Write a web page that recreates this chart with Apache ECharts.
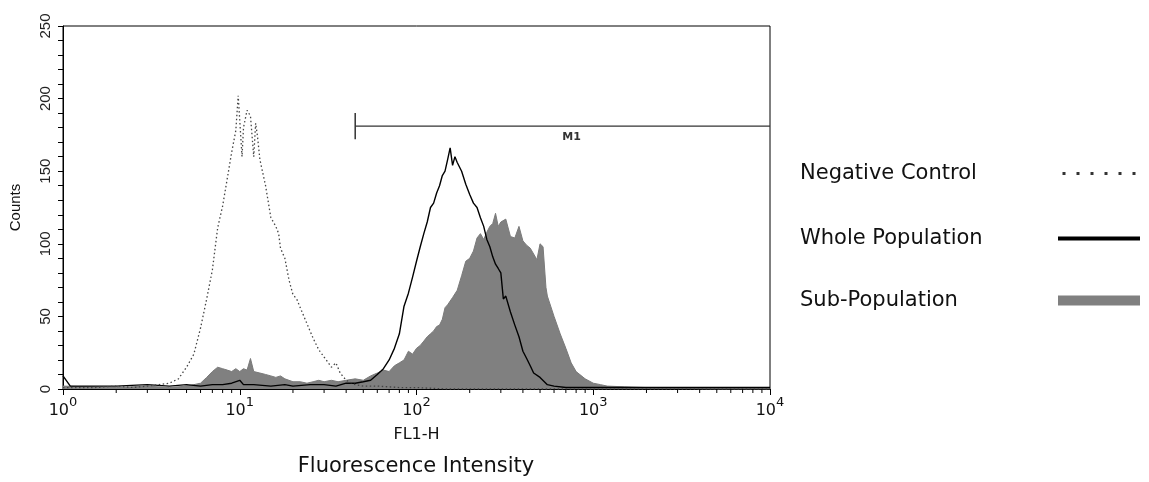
<!DOCTYPE html>
<html>
<head>
<meta charset="utf-8">
<script src="https://cdn.jsdelivr.net/npm/echarts@6/dist/echarts.min.js"></script>
<style>
html,body{margin:0;padding:0;background:#fff;}
#chart{width:1149px;height:482px;}
</style>
</head>
<body>
<div id="chart"></div>
<script>
// ---- data (FL1-H fluorescence value, counts) ----
const negX = [1, 1.5, 2, 2.5, 3, 3.5, 4, 4.5, 5, 5.5, 6, 6.5, 7, 7.5, 8, 8.5, 9, 9.5, 9.8, 10, 10.3, 10.5, 11, 11.5, 12, 12.3, 12.6, 13, 14, 15, 16, 16.6, 17, 18, 19, 20, 21, 22, 24, 26, 28, 30, 33, 35, 37, 40, 45, 50, 60, 80, 100, 150, 200, 500, 1000, 10000];
const negY = [1, 1, 2, 1, 2, 3, 4, 7, 15, 24, 42, 62, 82, 111, 126, 145, 163, 178, 202, 185, 160, 180, 192, 188, 160, 183, 174, 158, 140, 118, 112, 107, 97, 90, 75, 65, 62, 56, 45, 35, 27, 22, 15, 18, 11, 6, 3, 2, 2, 1, 1, 0, 0, 0, 0, 0];

const wholeX = [1, 1.1, 1.5, 2, 3, 4, 5, 6, 7, 8, 9, 10, 10.5, 12, 15, 18, 20, 25, 30, 35, 40, 45, 50, 55, 60, 65, 70, 75, 80, 85, 90, 95, 100, 105, 110, 115, 120, 125, 130, 135, 140, 145, 150, 155, 160, 165, 170, 180, 190, 200, 210, 220, 230, 240, 250, 260, 270, 280, 290, 300, 310, 320, 340, 360, 380, 400, 420, 440, 460, 500, 550, 600, 700, 800, 1000, 2000, 5000, 10000];
const wholeY = [9, 2, 2, 2, 3, 2, 3, 2, 3, 3, 4, 6, 3, 3, 2, 3, 2, 3, 3, 2, 4, 4, 5, 6, 10, 14, 20, 28, 38, 57, 66, 77, 88, 98, 107, 115, 125, 128, 135, 140, 147, 150, 158, 166, 154, 160, 156, 150, 141, 134, 128, 125, 118, 112, 103, 98, 91, 86, 83, 80, 62, 64, 53, 44, 36, 26, 21, 16, 11, 8, 3, 2, 1, 1, 1, 1, 1, 1];

const subX = [1, 2, 3, 4, 5, 5.5, 6, 6.5, 7, 7.5, 8, 8.5, 9, 9.5, 10, 10.5, 11, 11.5, 12, 13, 14, 15, 16, 17, 18, 20, 22, 24, 26, 28, 30, 33, 36, 40, 45, 50, 55, 60, 65, 70, 75, 80, 85, 90, 95, 100, 105, 110, 115, 120, 125, 130, 135, 140, 145, 150, 160, 170, 180, 190, 200, 210, 220, 230, 240, 250, 260, 270, 280, 290, 300, 320, 340, 360, 380, 400, 420, 440, 460, 480, 500, 520, 540, 550, 600, 650, 700, 750, 800, 900, 1000, 1100, 1200, 1500, 2000, 3000, 5000, 10000];
const subY = [2, 1, 2, 1, 2, 3, 4, 8, 12, 15, 14, 13, 12, 14, 12, 14, 13, 21, 12, 11, 10, 9, 8, 9, 7, 5, 5, 4, 5, 6, 5, 6, 5, 6, 7, 6, 9, 11, 13, 12, 16, 18, 20, 26, 24, 28, 30, 33, 36, 38, 40, 43, 44, 48, 56, 58, 63, 68, 78, 88, 90, 95, 104, 107, 103, 108, 112, 114, 121, 112, 115, 117, 105, 104, 112, 102, 99, 97, 93, 89, 100, 98, 70, 64, 50, 38, 28, 18, 12, 7, 4, 3, 2, 1.5, 1, 0.5, 0, 0];

const xMinorTicks = [2, 3, 4, 5, 6, 7, 8, 9, 20, 30, 40, 50, 60, 70, 80, 90, 200, 300, 400, 500, 600, 700, 800, 900, 2000, 3000, 4000, 5000, 6000, 7000, 8000, 9000];
const m1Range = [45, 10000];
const m1Level = 181;
const m1BarHalf = 9;

function zip(xs, ys) { return xs.map((x, i) => [x, ys[i]]); }

const chart = echarts.init(document.getElementById('chart'), null, {renderer: 'canvas'});
const FONT = '"DejaVu Sans", "Liberation Sans", Arial, sans-serif';
const FONT2 = '"Liberation Sans", Arial, sans-serif';
const DOTS = 'path://M0,0h3v3h-3z M14,0h3v3h-3z M28,0h3v3h-3z M42,0h3v3h-3z M56,0h3v3h-3z M70,0h3v3h-3z';
const LEG_FONT_SIZE = 21;
const LEG_TEXT_BOX = 253;

const measureCtx = document.createElement('canvas').getContext('2d');
measureCtx.font = LEG_FONT_SIZE + 'px ' + FONT;
function textW(s) { return measureCtx.measureText(s).width; }

function legendBox(name, top, extra) {
  const padR = Math.max(0, LEG_TEXT_BOX - textW(name));
  return Object.assign({
    data: [name],
    left: 800,
    top: top,
    orient: 'vertical',
    align: 'right',
    padding: 0,
    itemGap: 0,
    itemWidth: 82,
    selectedMode: false,
    textStyle: {fontFamily: FONT, fontSize: LEG_FONT_SIZE, color: '#111', padding: [0, padR, 0, 0]}
  }, extra);
}

const option = {
  animation: false,
  backgroundColor: '#fff',
  grid: {left: 62, right: 379, top: 26, bottom: 93, show: true, borderColor: '#000', borderWidth: 1, containLabel: false},
  xAxis: {
    type: 'log', logBase: 10, min: 1, max: 10000,
    name: 'FL1-H', nameLocation: 'middle', nameGap: 38,
    nameTextStyle: {fontFamily: FONT, fontSize: 16, color: '#111'},
    axisLine: {show: true, lineStyle: {color: '#000', width: 1}},
    axisTick: {show: true, length: 6, lineStyle: {color: '#000'}},
    splitLine: {show: false},
    minorTick: {show: false},
    axisLabel: {
      margin: 7,
      formatter: function (v) { return '{b|10}{s|' + Math.round(Math.log10(v)) + '}'; },
      rich: {
        b: {fontFamily: FONT, fontSize: 16, color: '#111', lineHeight: 23, verticalAlign: 'bottom'},
        s: {fontFamily: FONT, fontSize: 13, color: '#111', verticalAlign: 'top'}
      }
    }
  },
  yAxis: {
    type: 'value', min: 0, max: 250, interval: 50,
    name: 'Counts', nameLocation: 'middle', nameGap: 40,
    nameTextStyle: {fontFamily: FONT2, fontSize: 15, color: '#111'},
    axisLine: {show: true, lineStyle: {color: '#000', width: 1}},
    axisTick: {show: true, length: 5, lineStyle: {color: '#000'}},
    minorTick: {show: true, splitNumber: 5, length: 5, lineStyle: {color: '#000'}},
    splitLine: {show: false},
    axisLabel: {rotate: 90, margin: 10, fontFamily: FONT2, fontSize: 15, color: '#222'}
  },
  legend: [
    legendBox('Negative Control', 163, {itemHeight: 3, icon: DOTS, itemStyle: {color: '#333'}}),
    legendBox('Whole Population', 228, {itemHeight: 4, icon: 'rect', itemStyle: {color: '#000'}}),
    legendBox('Sub-Population', 290, {itemHeight: 10, icon: 'rect', itemStyle: {color: '#808080'}})
  ],
  graphic: [{
    type: 'text',
    style: {text: 'Fluorescence Intensity', x: 416, y: 467, align: 'center', verticalAlign: 'middle',
      font: '21px ' + FONT, fill: '#111'}
  }],
  series: [
    {
      name: 'Sub-Population', type: 'line', data: zip(subX, subY), symbol: 'none',
      lineStyle: {color: '#7a7a7a', width: 1}, itemStyle: {color: '#808080'},
      areaStyle: {color: '#808080', opacity: 1}, z: 2
    },
    {
      name: 'Whole Population', type: 'line', data: zip(wholeX, wholeY), symbol: 'none',
      lineStyle: {color: '#000', width: 1.4}, itemStyle: {color: '#000'}, z: 3
    },
    {
      name: 'Negative Control', type: 'line', data: zip(negX, negY), symbol: 'none',
      lineStyle: {color: '#444', width: 1.3, type: [1.5, 2.5]}, itemStyle: {color: '#444'}, z: 4
    },
    {
      name: 'xMinor', type: 'custom', data: xMinorTicks.map(v => [v]), clip: false, silent: true, z: 5,
      renderItem: function (params, api) {
        const p = api.coord([api.value(0), 0]);
        return {type: 'line', shape: {x1: p[0], y1: p[1], x2: p[0], y2: p[1] + 4},
          style: {stroke: '#000', lineWidth: 1}};
      }
    },
    {
      name: 'M1', type: 'custom', data: [[m1Range[0], m1Range[1], m1Level]], clip: false, silent: true, z: 6,
      renderItem: function (params, api) {
        const a = api.coord([api.value(0), api.value(2)]);
        const b = api.coord([api.value(1), api.value(2)]);
        const t = api.coord([api.value(0), api.value(2) + m1BarHalf]);
        const u = api.coord([api.value(0), api.value(2) - m1BarHalf]);
        return {type: 'group', children: [
          {type: 'line', shape: {x1: a[0], y1: a[1], x2: b[0], y2: b[1]}, style: {stroke: '#333', lineWidth: 1.2}},
          {type: 'line', shape: {x1: t[0], y1: t[1], x2: u[0], y2: u[1]}, style: {stroke: '#333', lineWidth: 1.5}},
          {type: 'text', style: {text: 'M1', x: (a[0] + b[0]) / 2 + 9, y: a[1] + 11, align: 'center', verticalAlign: 'middle',
            font: 'bold 11px ' + FONT, fill: '#333'}}
        ]};
      }
    }
  ]
};
chart.setOption(option);
</script>
</body>
</html>
